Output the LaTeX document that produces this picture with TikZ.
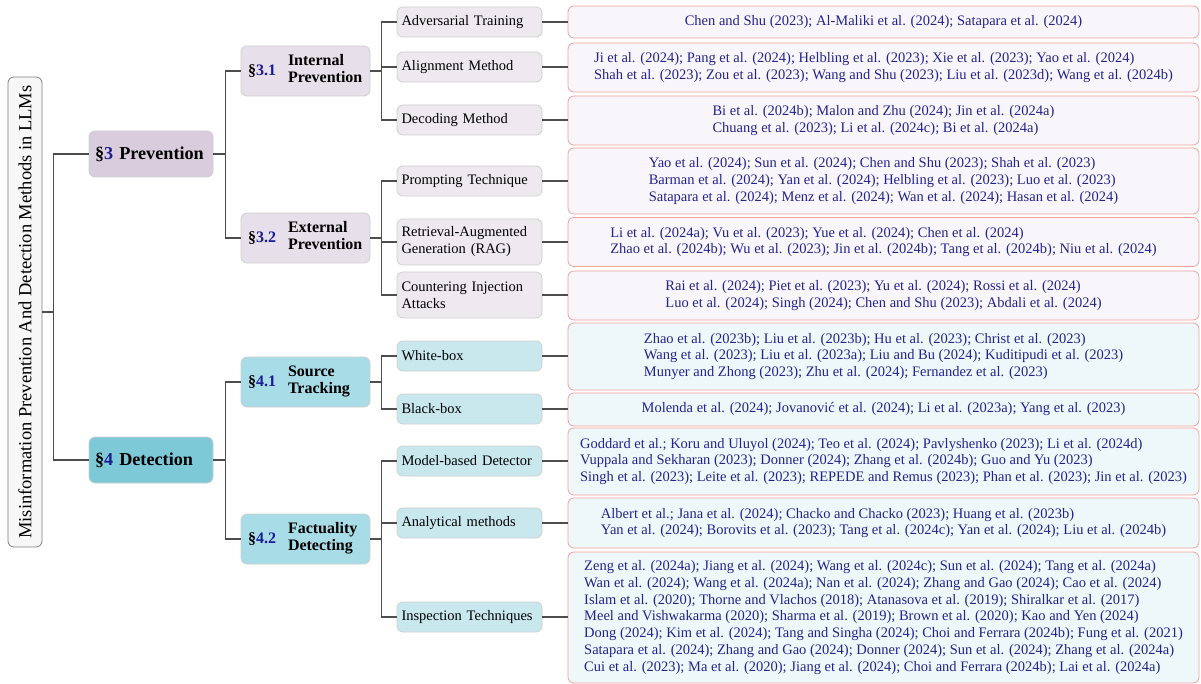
\documentclass[tikz,border=0pt]{standalone}
\usepackage{fontspec}
\setmainfont{Liberation Serif}
\definecolor{secblue}{HTML}{1C1C96}
\definecolor{citeblue}{HTML}{23238C}
\definecolor{conngray}{HTML}{4D4D4D}
\definecolor{boxgray}{HTML}{CFCFCF}
\definecolor{leafred}{HTML}{EFA29C}
\definecolor{preone}{HTML}{D9CCDD}
\definecolor{pretwo}{HTML}{E7DFE9}
\definecolor{prethree}{HTML}{EDE9EF}
\definecolor{preleaf}{HTML}{F8F6FA}
\definecolor{detone}{HTML}{7DC9D8}
\definecolor{dettwo}{HTML}{A8DCE6}
\definecolor{detthree}{HTML}{C8E8EE}
\definecolor{detleaf}{HTML}{EEF7FA}
\begin{document}
\begin{tikzpicture}[x=1pt,y=-1pt,
	box/.style={draw=boxgray,rounded corners=6pt,line width=0.8pt,inner ysep=2pt},
	lvlone/.style={box,minimum width=124pt,minimum height=46pt,text width=112pt,inner xsep=6pt,align=left,font=\fontsize{18.2}{21}\selectfont\bfseries},
	lvltwo/.style={box,minimum width=129pt,minimum height=50pt,text width=115pt,inner xsep=7pt,align=left,font=\fontsize{16}{17}\selectfont\bfseries},
	lvlthree/.style={box,minimum width=143pt,minimum height=30pt,text width=136pt,inner xsep=4.5pt,align=left,font=\fontsize{14.5}{17}\selectfont},
	leaf/.style={draw=leafred,rounded corners=6pt,line width=0.8pt,minimum width=631pt,align=left,text=citeblue,font=\fontsize{14.5}{16.8}\selectfont},
	conn/.style={draw=conngray,line width=1.8pt}]
	\useasboundingbox (0,0) rectangle (1201,684);
	% root
	\node[draw=gray,fill=black!3,rounded corners=6pt,line width=0.8pt,rotate=90,minimum width=470pt,minimum height=34pt,font=\fontsize{18.5}{21}\selectfont] (root) at (25,312) {Misinformation Prevention And Detection Methods in LLMs};
	% sections
	\node[lvlone,fill=preone] (prev) at (151,154) {\mbox{\S\textcolor{secblue}{3} Prevention}};
	\node[lvlone,fill=detone] (det) at (151,460) {\mbox{\S\textcolor{secblue}{4} Detection}};
	% subsections
	\node[lvltwo,fill=pretwo] (intp) at (305.5,71) {\makebox[40pt][l]{\S\textcolor{secblue}{3.1}}\begin{tabular}{@{}l@{}}Internal\\Prevention\end{tabular}};
	\node[lvltwo,fill=pretwo] (extp) at (305.5,238) {\makebox[40pt][l]{\S\textcolor{secblue}{3.2}}\begin{tabular}{@{}l@{}}External\\Prevention\end{tabular}};
	\node[lvltwo,fill=dettwo] (srct) at (305.5,382) {\makebox[40pt][l]{\S\textcolor{secblue}{4.1}}\begin{tabular}{@{}l@{}}Source\\Tracking\end{tabular}};
	\node[lvltwo,fill=dettwo] (fact) at (305.5,539) {\makebox[40pt][l]{\S\textcolor{secblue}{4.2}}\begin{tabular}{@{}l@{}}Factuality\\Detecting\end{tabular}};
	% methods
	\node[lvlthree,fill=prethree] (adv) at (469.5,22) {Adversarial Training};
	\node[lvlthree,fill=prethree] (align) at (469.5,67) {Alignment Method};
	\node[lvlthree,fill=prethree] (dec) at (469.5,120) {Decoding Method};
	\node[lvlthree,fill=prethree] (prompt) at (469.5,181) {Prompting Technique};
	\node[lvlthree,fill=prethree,minimum height=46pt] (rag) at (469.5,242) {Retrieval-Augmented\\Generation (RAG)};
	\node[lvlthree,fill=prethree,minimum height=46pt] (inject) at (469.5,295) {Countering Injection\\Attacks};
	\node[lvlthree,fill=detthree] (white) at (469.5,356) {White-box};
	\node[lvlthree,fill=detthree] (black) at (469.5,409) {Black-box};
	\node[lvlthree,fill=detthree] (model) at (469.5,461) {Model-based Detector};
	\node[lvlthree,fill=detthree] (anal) at (469.5,523) {Analytical methods};
	\node[lvlthree,fill=detthree] (insp) at (469.5,617) {Inspection Techniques};
	% references
	\node[leaf,fill=preleaf,minimum height=32pt] (advref) at (883.5,22) {Chen and Shu (2023); Al-Maliki et al. (2024); Satapara et al. (2024)};
	\node[leaf,fill=preleaf,minimum height=49pt] (alignref) at (883.5,67.5) {Ji et al. (2024); Pang et al. (2024); Helbling et al. (2023); Xie et al. (2023); Yao et al. (2024)\\Shah et al. (2023); Zou et al. (2023); Wang and Shu (2023); Liu et al. (2023d); Wang et al. (2024b)};
	\node[leaf,fill=preleaf,minimum height=49pt] (decref) at (883.5,120.5) {Bi et al. (2024b); Malon and Zhu (2024); Jin et al. (2024a)\\Chuang et al. (2023); Li et al. (2024c); Bi et al. (2024a)};
	\node[leaf,fill=preleaf,minimum height=66pt] (promptref) at (883.5,181) {Yao et al. (2024); Sun et al. (2024); Chen and Shu (2023); Shah et al. (2023)\\Barman et al. (2024); Yan et al. (2024); Helbling et al. (2023); Luo et al. (2023)\\Satapara et al. (2024); Menz et al. (2024); Wan et al. (2024); Hasan et al. (2024)};
	\node[leaf,fill=preleaf,minimum height=49pt] (ragref) at (883.5,242) {Li et al. (2024a); Vu et al. (2023); Yue et al. (2024); Chen et al. (2024)\\Zhao et al. (2024b); Wu et al. (2023); Jin et al. (2024b); Tang et al. (2024b); Niu et al. (2024)};
	\node[leaf,fill=preleaf,minimum height=49pt] (injectref) at (883.5,295.5) {Rai et al. (2024); Piet et al. (2023); Yu et al. (2024); Rossi et al. (2024)\\Luo et al. (2024); Singh (2024); Chen and Shu (2023); Abdali et al. (2024)};
	\node[leaf,fill=detleaf,minimum height=67pt] (whiteref) at (883.5,356.5) {Zhao et al. (2023b); Liu et al. (2023b); Hu et al. (2023); Christ et al. (2023)\\Wang et al. (2023); Liu et al. (2023a); Liu and Bu (2024); Kuditipudi et al. (2023)\\Munyer and Zhong (2023); Zhu et al. (2024); Fernandez et al. (2023)};
	\node[leaf,fill=detleaf,minimum height=33pt] (blackref) at (883.5,409.5) {Molenda et al. (2024); Jovanović et al. (2024); Li et al. (2023a); Yang et al. (2023)};
	\node[leaf,fill=detleaf,minimum height=67pt] (modelref) at (883.5,461.5) {Goddard et al.; Koru and Uluyol (2024); Teo et al. (2024); Pavlyshenko (2023); Li et al. (2024d)\\Vuppala and Sekharan (2023); Donner (2024); Zhang et al. (2024b); Guo and Yu (2023)\\Singh et al. (2023); Leite et al. (2023); REPEDE and Remus (2023); Phan et al. (2023); Jin et al. (2023)};
	\node[leaf,fill=detleaf,minimum height=50pt] (analref) at (883.5,523) {Albert et al.; Jana et al. (2024); Chacko and Chacko (2023); Huang et al. (2023b)\\Yan et al. (2024); Borovits et al. (2023); Tang et al. (2024c); Yan et al. (2024); Liu et al. (2024b)};
	\node[leaf,fill=detleaf,minimum height=131pt] (inspref) at (883.5,617.5) {Zeng et al. (2024a); Jiang et al. (2024); Wang et al. (2024c); Sun et al. (2024); Tang et al. (2024a)\\Wan et al. (2024); Wang et al. (2024a); Nan et al. (2024); Zhang and Gao (2024); Cao et al. (2024)\\Islam et al. (2020); Thorne and Vlachos (2018); Atanasova et al. (2019); Shiralkar et al. (2017)\\Meel and Vishwakarma (2020); Sharma et al. (2019); Brown et al. (2020); Kao and Yen (2024)\\Dong (2024); Kim et al. (2024); Tang and Singha (2024); Choi and Ferrara (2024b); Fung et al. (2021)\\Satapara et al. (2024); Zhang and Gao (2024); Donner (2024); Sun et al. (2024); Zhang et al. (2024a)\\Cui et al. (2023); Ma et al. (2020); Jiang et al. (2024); Choi and Ferrara (2024b); Lai et al. (2024a)};
	% tree lines
	\draw[conn] (root.south) -- ++(11,0) coordinate (jroot) |- (prev.west);
	\draw[conn] (jroot) |- (det.west);
	\foreach \s in {intp,extp} \draw[conn] (prev.east) -- ++(12,0) |- (\s.west);
	\foreach \s in {srct,fact} \draw[conn] (det.east) -- ++(12,0) |- (\s.west);
	\foreach \m in {adv,align,dec} \draw[conn] (intp.east) -- ++(11,0) |- (\m.west);
	\foreach \m in {prompt,rag,inject} \draw[conn] (extp.east) -- ++(11,0) |- (\m.west);
	\foreach \m in {white,black} \draw[conn] (srct.east) -- ++(11,0) |- (\m.west);
	\foreach \m in {model,anal,insp} \draw[conn] (fact.east) -- ++(11,0) |- (\m.west);
	\foreach \m in {adv,align,dec,prompt,rag,inject,white,black,model,anal,insp} \draw[conn] (\m.east) -- (\m.east -| \m ref.west);
\end{tikzpicture}
\end{document}
